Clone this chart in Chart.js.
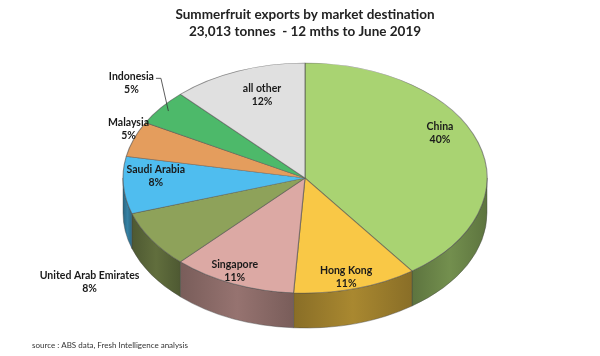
<!DOCTYPE html>
<html>
<head>
<meta charset="utf-8">
<script src="https://cdn.jsdelivr.net/npm/chart.js@4/dist/chart.umd.min.js"></script>
<style>
  html, body { margin: 0; padding: 0; background: #fff; }
  #wrap { width: 600px; height: 356px; position: relative; }
</style>
</head>
<body>
<div id="wrap"><canvas id="pie"></canvas></div>
<script>
// données
const markets = ['China', 'Hong Kong', 'Singapore', 'United Arab Emirates', 'Saudi Arabia', 'Malaysia', 'Indonesia', 'all other'];
const shares = [40, 11, 11, 8, 8, 5, 5, 12];
const sliceColors = ['#a9d372', '#f9c846', '#dca9a4', '#8ea25a', '#4fbdef', '#e49d5d', '#4db96a', '#e0e0e0'];
const titleLines = ['Summerfruit exports by market destination', '23,013 tonnes  - 12 mths to June 2019'];
const sourceNote = 'source : ABS data, Fresh Intelligence analysis';

// placement des étiquettes : fraction du rayon, décalage d'angle (degrés)
const labelPlace = [[0.84, -10], [0.89, 1.5], [0.9, 2], [1.49, -5], [0.82, 5], [1.06, 4], [1.26, 3], [0.76, 3.5]];

// ellipse du camembert 3D
const RX = 182, RY = 115, DEPTH = 35;
const FONT = 'Lato, "Open Sans", sans-serif';

function shade(hex, f) {
    const n = parseInt(hex.slice(1), 16);
    const r = Math.round(((n >> 16) & 255) * f);
    const g = Math.round(((n >> 8) & 255) * f);
    const b = Math.round((n & 255) * f);
    return 'rgb(' + r + ',' + g + ',' + b + ')';
}

const pie3d = {
    id: 'pie3d',
    beforeDatasetsDraw(chart) {
        const ctx = chart.ctx;
        const arcs = chart.getDatasetMeta(0).data;
        const cx = arcs[0].x, cy = arcs[0].y, r = arcs[0].outerRadius;

        // Parois latérales (moitié avant seulement)
        arcs.forEach((arc, i) => {
            const s = Math.max(arc.startAngle, 0);
            const e = Math.min(arc.endAngle, Math.PI);
            if (s >= e) return;
            const x1 = cx + RX * Math.cos(s), x2 = cx + RX * Math.cos(e);
            const grad = ctx.createLinearGradient(Math.min(x1, x2), 0, Math.max(x1, x2), 0);
            grad.addColorStop(0, shade(sliceColors[i], 0.55));
            grad.addColorStop(0.5, shade(sliceColors[i], 0.68));
            grad.addColorStop(1, shade(sliceColors[i], 0.55));
            ctx.beginPath();
            ctx.ellipse(cx, cy, RX, RY, 0, s, e, false);
            ctx.lineTo(cx + RX * Math.cos(e), cy + DEPTH + RY * Math.sin(e));
            ctx.ellipse(cx, cy + DEPTH, RX, RY, 0, e, s, true);
            ctx.closePath();
            ctx.fillStyle = grad;
            ctx.fill();
            ctx.strokeStyle = 'rgba(70,70,70,0.6)';
            ctx.lineWidth = 0.7;
            ctx.stroke();
        });

        // Aplatir le dessus en ellipse
        ctx.save();
        ctx.translate(cx, cy);
        ctx.scale(RX / r, RY / r);
        ctx.translate(-cx, -cy);
    },
    afterDatasetsDraw(chart) {
        const ctx = chart.ctx;
        ctx.restore();

        const arcs = chart.getDatasetMeta(0).data;
        const cx = arcs[0].x, cy = arcs[0].y;
        ctx.save();
        ctx.font = 'bold 10.5px ' + FONT;
        ctx.fillStyle = '#1a1a1a';
        ctx.textAlign = 'center';
        ctx.textBaseline = 'middle';
        arcs.forEach((arc, i) => {
            const m = (arc.startAngle + arc.endAngle) / 2 + labelPlace[i][1] * Math.PI / 180;
            const f = labelPlace[i][0];
            const x = cx + RX * f * Math.cos(m);
            const y = cy + RY * f * Math.sin(m);
            ctx.fillText(markets[i], x, y - 6.5);
            ctx.fillText(shares[i] + '%', x, y + 6.5);

            // ligne de rappel pour l'Indonésie
            if (markets[i] === 'Indonesia') {
                const w = ctx.measureText(markets[i]).width;
                const mid = (arc.startAngle + arc.endAngle) / 2;
                const sx = x + w / 2 + 2, sy = y - 5;
                ctx.beginPath();
                ctx.moveTo(sx, sy);
                ctx.lineTo(sx + 5, sy);
                ctx.lineTo(cx + RX * 0.95 * Math.cos(mid), cy + RY * 0.95 * Math.sin(mid));
                ctx.strokeStyle = '#333';
                ctx.lineWidth = 0.8;
                ctx.stroke();
            }
        });

        ctx.textAlign = 'left';
        ctx.font = '8px ' + FONT;
        ctx.fillStyle = '#333';
        ctx.fillText(sourceNote, 32, 345);
        ctx.restore();
    }
};

new Chart(document.getElementById('pie'), {
    type: 'pie',
    data: {
        labels: markets,
        datasets: [{
            data: shares,
            backgroundColor: sliceColors,
            borderColor: 'rgba(80,80,80,0.6)',
            borderWidth: 0.8
        }]
    },
    options: {
        responsive: true,
        maintainAspectRatio: false,
        animation: false,
        layout: {
            padding: { left: 10, right: 0, top: 0, bottom: 50 }
        },
        plugins: {
            legend: { display: false },
            tooltip: { enabled: false },
            title: {
                display: true,
                text: titleLines,
                color: '#222',
                font: { family: FONT, size: 13.5, weight: 'bold', lineHeight: 1.26 },
                padding: { top: 6, bottom: 10 }
            }
        }
    },
    plugins: [pie3d]
});
</script>
</body>
</html>
